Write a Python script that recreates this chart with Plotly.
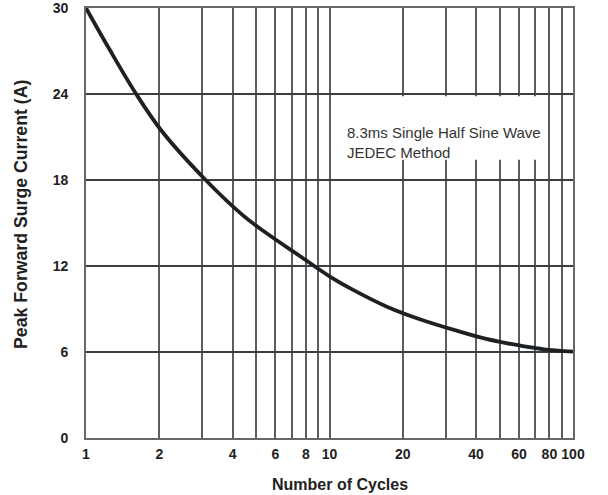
import plotly.graph_objects as go

# Data
cycles = [1, 1.25, 1.6, 2.05, 3.1, 4.4, 5.5, 7.55, 10, 12.5, 17.2, 24, 33.5, 44, 55.5, 64, 76, 100]
current = [30, 27.1, 24.05, 21.4, 18.0, 15.55, 14.3, 12.7, 11.28, 10.33, 9.16, 8.23, 7.47, 6.91, 6.56,
           6.37, 6.19, 6.03]

x_grid = [1, 2, 3, 4, 5, 6, 7, 8, 9, 10, 20, 30, 40, 50, 60, 70, 80, 90, 100]
x_labels = ["1", "2", "", "4", "", "6", "", "8", "", "10", "20", "", "40", "", "60", "", "80", "", "100"]
y_ticks = [0, 6, 12, 18, 24, 30]

note_text = "8.3ms Single Half Sine Wave<br>JEDEC Method"
x_title = "Number of Cycles"
y_title = "Peak Forward Surge Current (A)"

FONT = "Liberation Sans, Arial, sans-serif"
TXT = "#222222"

fig = go.Figure()
fig.add_trace(go.Scatter(
    x=cycles, y=current, mode="lines",
    line=dict(color="#1e2124", width=3.8, shape="spline", smoothing=1.0),
    showlegend=False, hoverinfo="skip",
))

fig.update_layout(
    width=608, height=495,
    margin=dict(l=86, r=35, t=8, b=57),
    paper_bgcolor="white", plot_bgcolor="white",
    font=dict(family=FONT, color=TXT),
    xaxis=dict(
        type="log", range=[0, 2], automargin=False,
        tickvals=x_grid, ticktext=x_labels,
        showgrid=True, gridcolor="#5a5d60", gridwidth=1.6,
        showline=True, linecolor="#66696c", linewidth=1.6, mirror=True,
        ticks="outside", ticklen=2, tickcolor="rgba(0,0,0,0)",
        tickfont=dict(family=FONT, size=14, color=TXT, weight="bold"),
        ticklabeloverflow="allow",
        zeroline=False,
    ),
    yaxis=dict(
        range=[0, 30], automargin=False,
        tickvals=y_ticks,
        showgrid=True, gridcolor="#3c3f42", gridwidth=1.6,
        showline=True, linecolor="#66696c", linewidth=1.6, mirror=True,
        ticks="outside", ticklen=13, tickcolor="rgba(0,0,0,0)",
        tickfont=dict(family=FONT, size=14, color=TXT, weight="bold"),
        ticklabeloverflow="allow",
        zeroline=False,
    ),
    shapes=[dict(
        type="rect", xref="paper", yref="paper",
        x0=0.503, x1=0.938, y0=0.647, y1=0.795,
        fillcolor="white", line=dict(width=0), layer="above",
    )],
    annotations=[
        dict(
            text=note_text, xref="paper", yref="paper",
            x=0.532, y=0.735, xanchor="left", yanchor="top", align="left",
            showarrow=False,
            font=dict(family=FONT, size=15, color="#333333"),
        ),
        dict(
            text="<b>" + x_title + "</b>", xref="paper", yref="paper",
            x=0.521, y=-0.107, xanchor="center", yanchor="middle",
            showarrow=False,
            font=dict(family=FONT, size=16, color=TXT),
        ),
        dict(
            text="<b>" + y_title + "</b>", xref="paper", yref="paper",
            x=-0.1335, y=0.521, xanchor="center", yanchor="middle", textangle=-90,
            showarrow=False,
            font=dict(family=FONT, size=17.7, color=TXT),
        ),
    ],
)

fig.write_html(
    "out.html",
    config={"displayModeBar": False},
    post_script="document.body.style.margin='0px';",
)
